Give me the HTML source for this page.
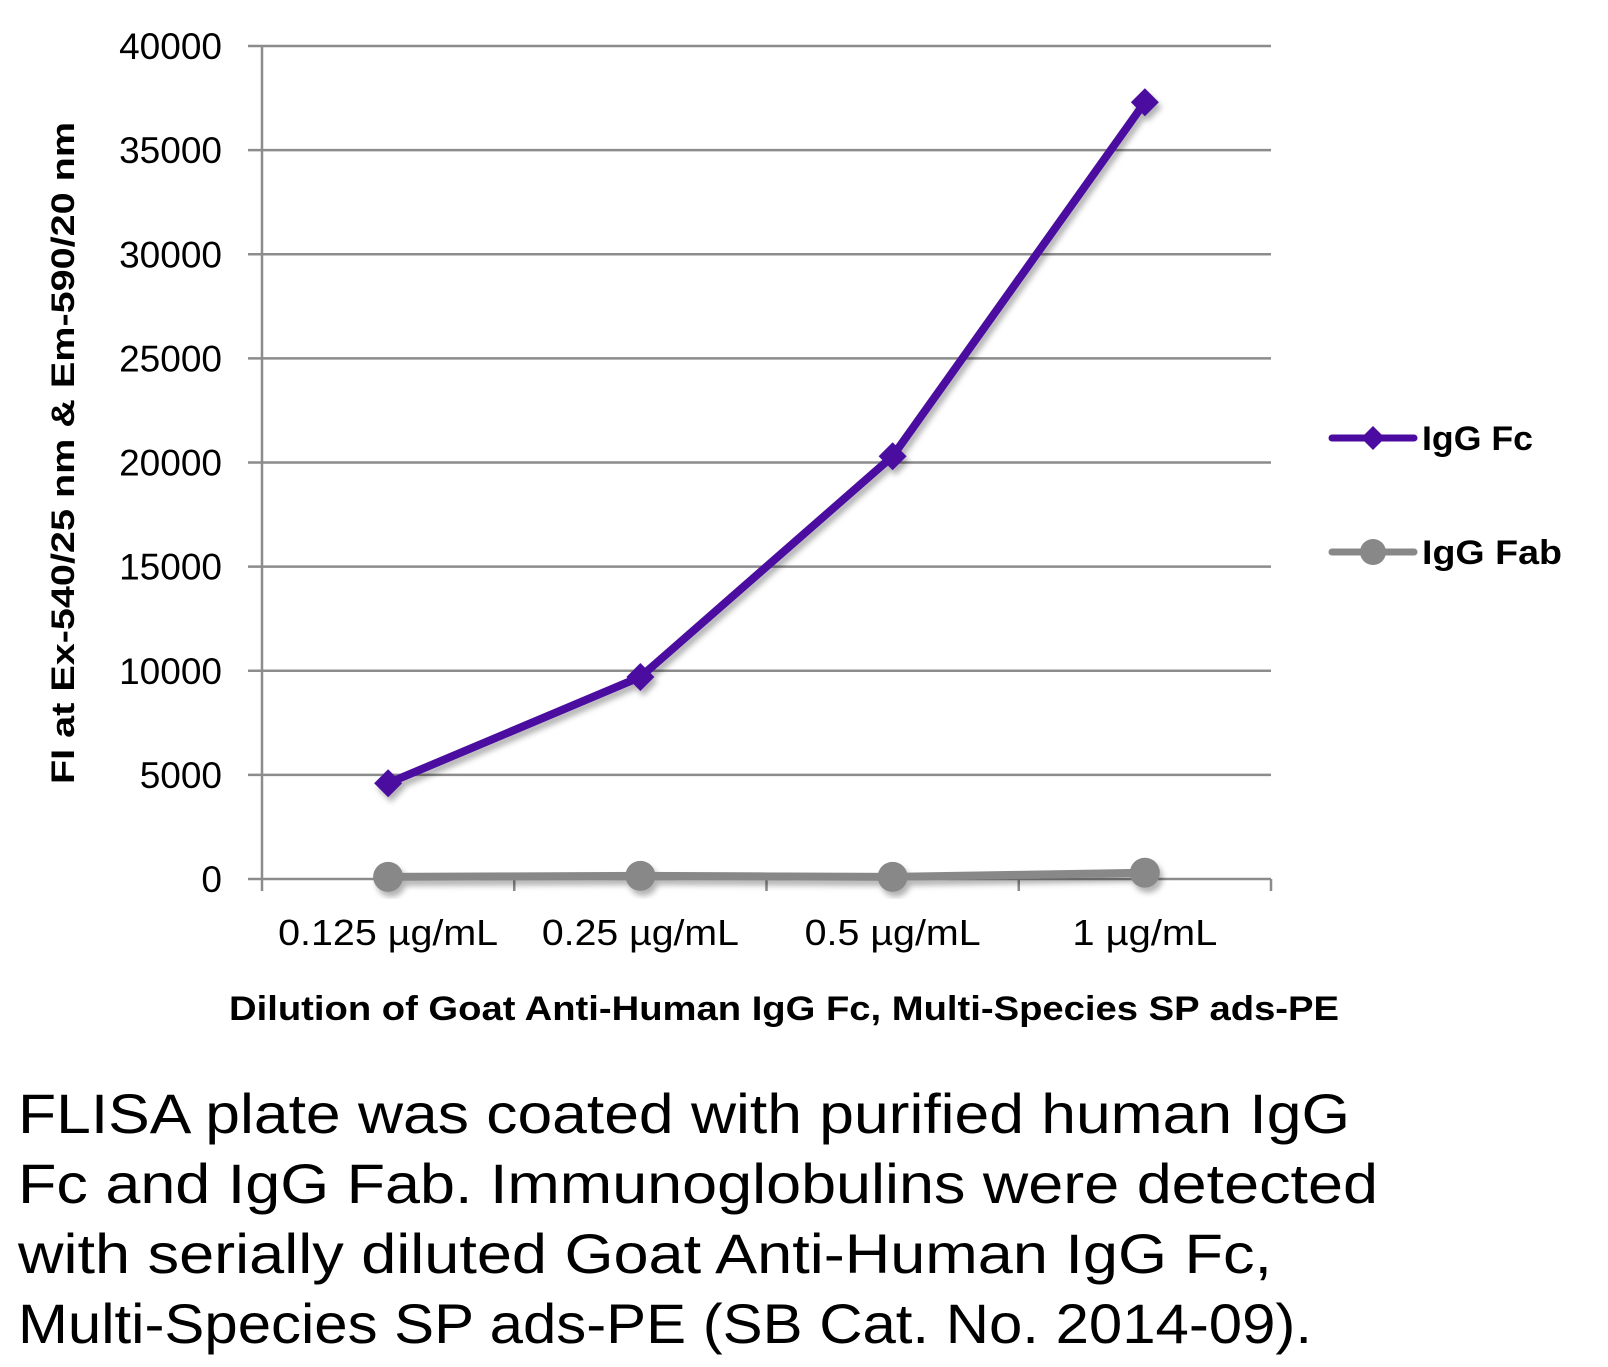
<!DOCTYPE html>
<html><head><meta charset="utf-8"><style>
html,body{margin:0;padding:0;background:#fff}
svg{display:block}
text{font-family:"Liberation Sans",sans-serif;fill:#000}
</style></head><body>
<svg id="chart" width="1608" height="1367" viewBox="0 0 1608 1367">
<defs><filter id="sh" x="-20%" y="-20%" width="140%" height="140%"><feDropShadow dx="3" dy="5" stdDeviation="3" flood-color="#000" flood-opacity="0.3"/></filter></defs>
<g id="grid"></g>
<g id="yticks"></g>
<g id="xticks"></g>
<g id="series"></g>
<text transform="translate(74,453) rotate(-90)" text-anchor="middle" font-size="32" font-weight="bold" textLength="662" lengthAdjust="spacingAndGlyphs">FI at Ex-540/25 nm &amp; Em-590/20 nm</text>
<text x="229" y="1020" font-size="34" font-weight="bold" textLength="1110" lengthAdjust="spacingAndGlyphs">Dilution of Goat Anti-Human IgG Fc, Multi-Species SP ads-PE</text>
<g>
 <g>
  <line x1="1332" y1="438" x2="1414" y2="438" stroke="#4b0aa0" stroke-width="7" stroke-linecap="round"/>
  <path d="M1373 426 L1385 438 L1373 450 L1361 438 Z" fill="#4b0aa0"/>
  <text x="1422" y="450" font-size="34" font-weight="bold" textLength="111" lengthAdjust="spacingAndGlyphs">IgG Fc</text>
 </g>
 <g>
  <line x1="1332" y1="552" x2="1414" y2="552" stroke="#888" stroke-width="7" stroke-linecap="round"/>
  <circle cx="1373" cy="552" r="13" fill="#888"/>
  <text x="1422" y="564" font-size="34" font-weight="bold" textLength="140" lengthAdjust="spacingAndGlyphs">IgG Fab</text>
 </g>
</g>
<g font-size="56">
 <text x="18" y="1133" textLength="1332" lengthAdjust="spacingAndGlyphs">FLISA plate was coated with purified human IgG</text>
 <text x="18" y="1203" textLength="1360" lengthAdjust="spacingAndGlyphs">Fc and IgG Fab.  Immunoglobulins were detected</text>
 <text x="18" y="1273" textLength="1254" lengthAdjust="spacingAndGlyphs">with serially diluted Goat Anti-Human IgG Fc,</text>
 <text x="18" y="1343" textLength="1294" lengthAdjust="spacingAndGlyphs">Multi-Species SP ads-PE (SB Cat. No. 2014-09).</text>
</g>
</svg>
<script>
const categories = ["0.125 µg/mL","0.25 µg/mL","0.5 µg/mL","1 µg/mL"];
const catWidths = [220,197,176,145];
const fcValues = [4600, 9700, 20300, 37300];
const fabValues = [100, 150, 100, 300];
const yTicks = [0,5000,10000,15000,20000,25000,30000,35000,40000];
const NS="http://www.w3.org/2000/svg";
const L=262,R=1271,T=46,B=879,YMAX=40000;
const x=i=>L+(R-L)/categories.length*(i+0.5);
const y=v=>B-(B-T)*v/YMAX;
function mk(tag,attrs,parent){const e=document.createElementNS(NS,tag);for(const k in attrs)e.setAttribute(k,attrs[k]);parent.appendChild(e);return e;}
const grid=document.getElementById('grid'),yt=document.getElementById('yticks'),xt=document.getElementById('xticks'),ser=document.getElementById('series');
yTicks.forEach(v=>{
 const ln=mk('line',{x1:248,x2:R,y1:y(v),y2:y(v),stroke:'#8c8c8c','stroke-width':2.5},grid);
 
 
 const t=mk('text',{x:222,y:y(v)+13,'text-anchor':'end','font-size':37},yt);
 t.textContent=String(v);
 
 
});
const ax=mk('line',{x1:L,x2:L,y1:T,y2:B,stroke:'#8c8c8c','stroke-width':2.5},grid);


for(let i=0;i<=categories.length;i++){
 const xx=L+(R-L)/categories.length*i;
 const tk=mk('line',{x1:xx,x2:xx,y1:B,y2:B+12,stroke:'#8c8c8c','stroke-width':2.5},grid);
 
 
}
categories.forEach((c,i)=>{
 const t=mk('text',{x:x(i)-catWidths[i]/2,y:945,'font-size':36,textLength:catWidths[i],lengthAdjust:'spacingAndGlyphs'},xt);
 t.textContent=c;
 
 
});
function series(vals,color,shape,name){
 const g=mk('g',{filter:'url(#sh)'},ser);
 
 
 const pts=vals.map((v,i)=>x(i)+','+y(v)).join(' ');
 const pl=mk('polyline',{points:pts,fill:'none',stroke:color,'stroke-width':8,'stroke-linejoin':'round'},g);
 
 
 vals.forEach((v,i)=>{
  let m;
  if(shape==='diamond'){const cx=x(i),cy=y(v);m=mk('path',{d:`M${cx} ${cy-14}L${cx+14} ${cy}L${cx} ${cy+14}L${cx-14} ${cy}Z`,fill:color},g);}
  else m=mk('circle',{cx:x(i),cy:y(v),r:15,fill:color},g);
  
  
 });
}
series(fabValues,'#888888','circle','series-igg-fab');
series(fcValues,'#4b0aa0','diamond','series-igg-fc');
</script>
</body></html>
